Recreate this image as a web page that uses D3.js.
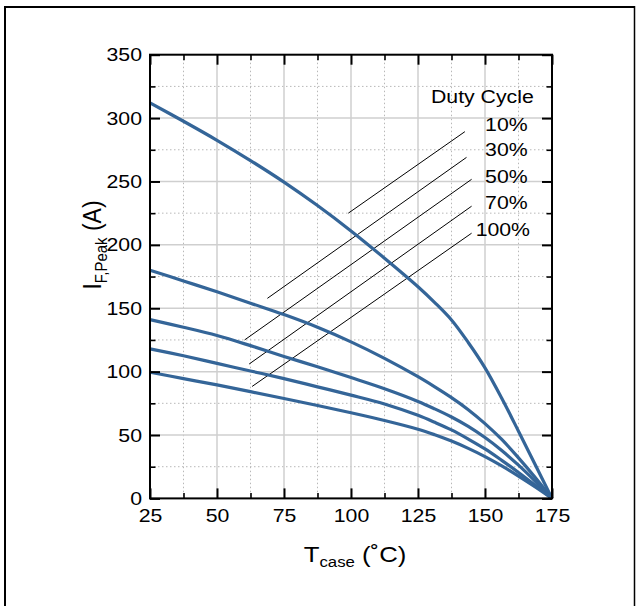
<!DOCTYPE html>
<html>
<head>
<meta charset="utf-8">
<script src="https://cdn.jsdelivr.net/npm/d3@7"></script>
<style>
  html, body { margin: 0; padding: 0; background: #fff; }
  svg { display: block; }
  text { font-family: "Liberation Sans", Arial, sans-serif; fill: #000; }
</style>
</head>
<body>
<svg id="chart" width="639" height="606"></svg>
<script>
// ---------------- data ----------------
const tcase = [25, 37.5, 50, 62.5, 75, 87.5, 100, 112.5, 125, 131.25, 137.5, 143.75, 150, 156.25, 162.5, 168.75, 175];
const duty10  = [312, 297.5, 282.5, 266.5, 249.5, 231, 211, 189.5, 167, 154.5, 140.75, 123, 103, 79, 53, 26.5, 0];
const duty30  = [180, 171.5, 163, 154, 145, 135, 123.5, 110.5, 96, 88, 79.5, 70, 59, 46.5, 32, 16.5, 0];
const duty50  = [141, 135, 128.5, 120.5, 112, 103.8, 95.3, 86.5, 76.5, 70.6, 64.2, 56.8, 48, 37.8, 26.2, 13.5, 0];
const duty70  = [118, 112.5, 106.5, 100.5, 94.5, 88, 81.5, 74.5, 65.5, 60, 54, 46.8, 39, 30, 20.5, 10.4, 0];
const duty100 = [99.5, 94.5, 89.5, 84.2, 78.8, 73.3, 67.6, 61.5, 54.6, 50.2, 45.2, 39.45, 32.95, 25.65, 17.65, 9.05, 0];
const seriesNames = ["10%", "30%", "50%", "70%", "100%"];
const seriesValues = [duty10, duty30, duty50, duty70, duty100];
const xTicks = [25, 50, 75, 100, 125, 150, 175];
const yTicks = [0, 50, 100, 150, 200, 250, 300, 350];
const legendTitle = "Duty Cycle";
// leader lines for the legend (data units: [T1, I1, T2, I2])
const leaderLines = [
  [99.0, 225, 142.5, 289.3],
  [68.8, 157.8, 143.1, 269],
  [60.3, 125, 145, 251.7],
  [62.0, 106, 145, 230.5],
  [63.1, 88.3, 145, 209.2]
];

(function () {
// ---------------- layout ----------------
const pL = 150, pR = 552, pT = 54.7, pB = 498.4;
const SX = 1.12;               // horizontal text stretch
const tickFont = 19, titleFont = 23, subFont = 15;
const curveColor = "#346598";

const svg = d3.select("#chart");

// outer frame
svg.append("line").attr("x1", 5).attr("y1", 7).attr("x2", 634.5).attr("y2", 7).attr("stroke", "#000").attr("stroke-width", 2);
svg.append("line").attr("x1", 5).attr("y1", 6).attr("x2", 5).attr("y2", 606).attr("stroke", "#000").attr("stroke-width", 2);
svg.append("line").attr("x1", 634.5).attr("y1", 6).attr("x2", 634.5).attr("y2", 606).attr("stroke", "#000").attr("stroke-width", 1.5);

const x = d3.scaleLinear().domain([25, 175]).range([pL, pR]);
const y = d3.scaleLinear().domain([0, 350]).range([pB, pT]);

// grid
const xMinor = d3.range(37.5, 175, 25);
const yMinor = d3.range(25, 350, 50);
const grid = svg.append("g");
grid.selectAll(".gxm").data(xMinor).join("line")
  .attr("x1", d => x(d)).attr("x2", d => x(d)).attr("y1", pT).attr("y2", pB)
  .attr("stroke", "#b8b8b8").attr("stroke-width", 1).attr("stroke-dasharray", "1.5,2.5");
grid.selectAll(".gym").data(yMinor).join("line")
  .attr("y1", d => y(d)).attr("y2", d => y(d)).attr("x1", pL).attr("x2", pR)
  .attr("stroke", "#b8b8b8").attr("stroke-width", 1).attr("stroke-dasharray", "1.5,2.5");
grid.selectAll(".gx").data(xTicks.slice(1, -1)).join("line")
  .attr("x1", d => x(d)).attr("x2", d => x(d)).attr("y1", pT).attr("y2", pB)
  .attr("stroke", "#cfcfcf").attr("stroke-width", 1.5);
grid.selectAll(".gy").data(yTicks.slice(1, -1)).join("line")
  .attr("y1", d => y(d)).attr("y2", d => y(d)).attr("x1", pL).attr("x2", pR)
  .attr("stroke", "#cfcfcf").attr("stroke-width", 1.5);

// legend leader lines
svg.append("g").selectAll("line").data(leaderLines).join("line")
  .attr("x1", d => x(d[0])).attr("y1", d => y(d[1]))
  .attr("x2", d => x(d[2])).attr("y2", d => y(d[3]))
  .attr("stroke", "#000").attr("stroke-width", 1);

// curves
const line = d3.line().x(d => x(d[0])).y(d => y(d[1])).curve(d3.curveCatmullRom.alpha(0.5));
svg.append("g").selectAll("path").data(seriesValues).join("path")
  .attr("d", vals => line(tcase.map((t, i) => [t, vals[i]])))
  .attr("fill", "none").attr("stroke", curveColor).attr("stroke-width", 3.2)
  .attr("stroke-linejoin", "round");

// stretch helper for text
function stretch(sel) {
  sel.each(function () {
    const t = d3.select(this);
    const tx = +t.attr("x") || 0, ty = +t.attr("y") || 0;
    t.attr("x", 0).attr("y", 0).attr("transform", `translate(${tx},${ty}) scale(${SX},1)`);
  });
}

// axes
function styleAxis(g) {
  g.select(".domain").remove();
  g.selectAll(".tick line").attr("stroke", "#000").attr("stroke-width", 2);
  g.selectAll(".tick text").attr("font-size", tickFont).attr("font-family", "Liberation Sans, Arial, sans-serif").attr("fill", "#000");
}
const gB = svg.append("g").attr("transform", `translate(0,${pB})`)
  .call(d3.axisBottom(x).tickValues(xTicks).tickSizeInner(-10).tickSizeOuter(0).tickPadding(10).tickFormat(d3.format("d")));
styleAxis(gB); stretch(gB.selectAll(".tick text"));
const gBm = svg.append("g").attr("transform", `translate(0,${pB})`)
  .call(d3.axisBottom(x).tickValues(xMinor).tickSizeInner(-5.5).tickSizeOuter(0).tickFormat(""));
styleAxis(gBm); gBm.selectAll(".tick line").attr("stroke-width", 1.6);

const gT = svg.append("g").attr("transform", `translate(0,${pT})`)
  .call(d3.axisTop(x).tickValues(xTicks).tickSizeInner(-10).tickSizeOuter(0).tickFormat(""));
styleAxis(gT);
const gTm = svg.append("g").attr("transform", `translate(0,${pT})`)
  .call(d3.axisTop(x).tickValues(xMinor).tickSizeInner(-5.5).tickSizeOuter(0).tickFormat(""));
styleAxis(gTm); gTm.selectAll(".tick line").attr("stroke-width", 1.6);

const gL = svg.append("g").attr("transform", `translate(${pL},0)`)
  .call(d3.axisLeft(y).tickValues(yTicks).tickSizeInner(-10).tickSizeOuter(0).tickPadding(8).tickFormat(d3.format("d")));
styleAxis(gL); stretch(gL.selectAll(".tick text"));
const gLm = svg.append("g").attr("transform", `translate(${pL},0)`)
  .call(d3.axisLeft(y).tickValues(yMinor).tickSizeInner(-5.5).tickSizeOuter(0).tickFormat(""));
styleAxis(gLm); gLm.selectAll(".tick line").attr("stroke-width", 1.6);

const gR = svg.append("g").attr("transform", `translate(${pR},0)`)
  .call(d3.axisRight(y).tickValues(yTicks).tickSizeInner(-10).tickSizeOuter(0).tickFormat(""));
styleAxis(gR);
const gRm = svg.append("g").attr("transform", `translate(${pR},0)`)
  .call(d3.axisRight(y).tickValues(yMinor).tickSizeInner(-5.5).tickSizeOuter(0).tickFormat(""));
styleAxis(gRm); gRm.selectAll(".tick line").attr("stroke-width", 1.6);

// plot frame
svg.append("rect").attr("x", pL).attr("y", pT).attr("width", pR - pL).attr("height", pB - pT)
  .attr("fill", "none").attr("stroke", "#000").attr("stroke-width", 2);

// axis titles
const xt = svg.append("text").attr("text-anchor", "middle").attr("font-size", titleFont)
  .attr("transform", `translate(${(pL + pR) / 2 + 4},561.5) scale(${SX},1)`);
xt.append("tspan").text("T");
xt.append("tspan").attr("font-size", subFont).attr("dy", 5).text("case");
xt.append("tspan").attr("dy", -5).text(" (\u02DAC)");

const yt = svg.append("text").attr("text-anchor", "middle").attr("font-size", titleFont)
  .attr("transform", `translate(101,245) rotate(-90) scale(1,${SX})`);
yt.append("tspan").text("I");
yt.append("tspan").attr("font-size", subFont).attr("dy", 5).text("F,Peak");
yt.append("tspan").attr("dy", -5).text(" (A)");

// legend texts (positions in data units)
const legendLabelPos = [[165.9, 289.8], [165.9, 270], [165.9, 248.6], [165.9, 228], [166.8, 207.2]];
svg.append("text").attr("text-anchor", "end").attr("font-size", tickFont)
  .attr("transform", `translate(${x(168.2)},${y(311.7)}) scale(${SX},1)`).text(legendTitle);
svg.append("g").selectAll("text").data(seriesNames).join("text")
  .attr("text-anchor", "end").attr("font-size", tickFont)
  .attr("transform", (d, i) => `translate(${x(legendLabelPos[i][0])},${y(legendLabelPos[i][1])}) scale(${SX},1)`)
  .text(d => d);
})();
</script>
</body>
</html>
